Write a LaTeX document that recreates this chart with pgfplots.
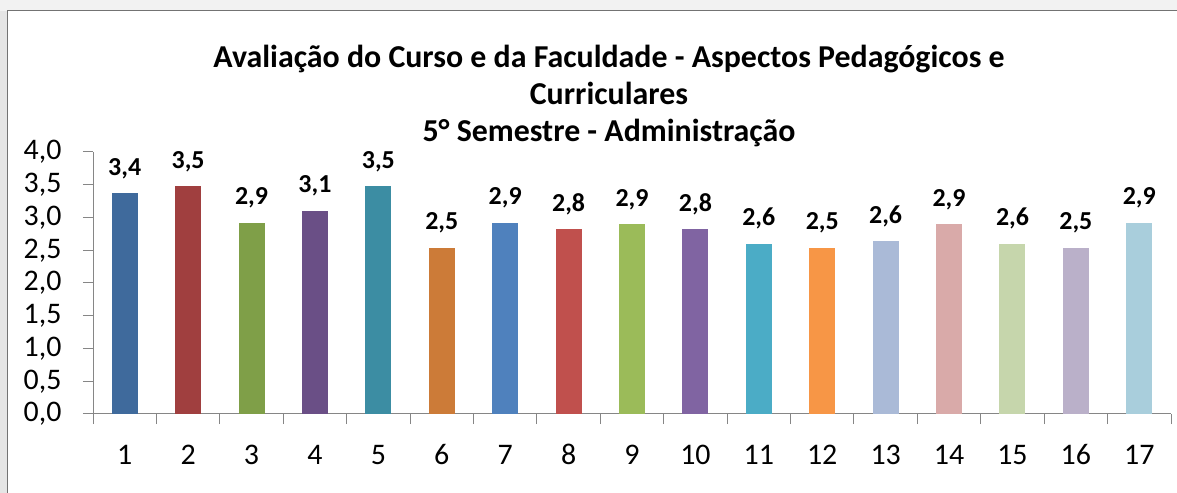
\documentclass[border=0pt]{standalone}
\usepackage{pgfplots}
\pgfplotsset{compat=1.18}
\usepackage{fontspec}
\setmainfont{Carlito}

\definecolor{c1}{HTML}{3F6A9C}
\definecolor{c2}{HTML}{A03F3F}
\definecolor{c3}{HTML}{7F9F48}
\definecolor{c4}{HTML}{6A4F86}
\definecolor{c5}{HTML}{3C8DA3}
\definecolor{c6}{HTML}{CC7B38}
\definecolor{c7}{HTML}{4F81BD}
\definecolor{c8}{HTML}{C0504D}
\definecolor{c9}{HTML}{9BBB59}
\definecolor{c10}{HTML}{8064A2}
\definecolor{c11}{HTML}{4BACC6}
\definecolor{c12}{HTML}{F79646}
\definecolor{c13}{HTML}{AABAD7}
\definecolor{c14}{HTML}{D9AAA9}
\definecolor{c15}{HTML}{C6D6AC}
\definecolor{c16}{HTML}{BAB0C9}
\definecolor{c17}{HTML}{A9CEDC}
\definecolor{axgray}{HTML}{868686}

\begin{document}
\begin{tikzpicture}
\path[use as bounding box, fill=black!10] (0,0) rectangle (1177bp,493bp);
\fill[black!5] (0,482bp) rectangle (1177bp,493bp);
\fill[white, draw=black!55, line width=1bp] (7bp,-5bp) rectangle (1185bp,482bp);
\node[align=center, font=\bfseries\fontsize{32}{37.5}\selectfont] at (609bp,397bp)
  {Avaliação do Curso e da Faculdade - Aspectos Pedagógicos e\\Curriculares\\5° Semestre - Administração};
\begin{axis}[
    at={(93bp,79bp)}, anchor=south west,
    scale only axis, width=1078bp, height=262bp,
    ybar, bar width=26bp, bar shift=0pt,
    xmin=0.5, xmax=17.5, ymin=0, ymax=4,
    enlargelimits=false,
    axis lines=left, axis line style={-, draw=axgray, line width=1bp},
    xtick={1,...,17},
    minor xtick={0.5,1.5,...,17.5},
    major x tick style={draw=none},
    minor x tick style={draw=axgray, line width=1bp},
    ytick={0,0.5,...,4},
    y tick style={draw=axgray, line width=1bp},
    tick align=outside,
    major tick length=10bp, minor tick length=10bp,
    typeset ticklabels with strut,
    xticklabel style={font=\fontsize{30}{30}\selectfont, yshift=-16bp},
    yticklabel style={font=\fontsize{30}{30}\selectfont, xshift=-18bp},
    /pgf/number format/assume math mode=true,
    /pgf/number format/use comma,
    yticklabel={\pgfmathprintnumber[fixed, fixed zerofill, precision=1]{\tick}},
    nodes near coords={\pgfmathprintnumber[fixed, fixed zerofill, precision=1]{\pgfplotspointmeta}},
    nodes near coords style={font=\bfseries\fontsize{26}{26}\selectfont, yshift=11bp},
  ]
  \addplot[fill=c1, draw=none] coordinates {(1,3.37)};
  \addplot[fill=c2, draw=none] coordinates {(2,3.48)};
  \addplot[fill=c3, draw=none] coordinates {(3,2.92)};
  \addplot[fill=c4, draw=none] coordinates {(4,3.10)};
  \addplot[fill=c5, draw=none] coordinates {(5,3.48)};
  \addplot[fill=c6, draw=none] coordinates {(6,2.54)};
  \addplot[fill=c7, draw=none] coordinates {(7,2.92)};
  \addplot[fill=c8, draw=none] coordinates {(8,2.82)};
  \addplot[fill=c9, draw=none] coordinates {(9,2.90)};
  \addplot[fill=c10, draw=none] coordinates {(10,2.82)};
  \addplot[fill=c11, draw=none] coordinates {(11,2.60)};
  \addplot[fill=c12, draw=none] coordinates {(12,2.54)};
  \addplot[fill=c13, draw=none] coordinates {(13,2.64)};
  \addplot[fill=c14, draw=none] coordinates {(14,2.90)};
  \addplot[fill=c15, draw=none] coordinates {(15,2.60)};
  \addplot[fill=c16, draw=none] coordinates {(16,2.54)};
  \addplot[fill=c17, draw=none] coordinates {(17,2.92)};
\end{axis}
\end{tikzpicture}
\end{document}
